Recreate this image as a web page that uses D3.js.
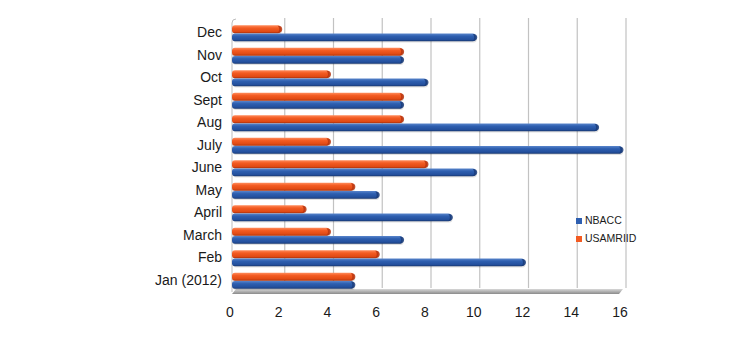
<!DOCTYPE html>
<html>
<head>
<meta charset="utf-8">
<script src="https://cdn.jsdelivr.net/npm/d3@7"></script>
<style>
  html, body { margin: 0; padding: 0; background: #fff; }
  svg { display: block; font-family: "Liberation Sans", Arial, sans-serif; }
</style>
</head>
<body>
<svg id="chart" width="750" height="342"></svg>
<script>
// Monthly counts per laboratory
const months = ["Jan (2012)", "Feb", "March", "April", "May", "June", "July", "Aug", "Sept", "Oct", "Nov", "Dec"];
const nbacc    = [5, 12, 7, 9, 6, 10, 16, 15, 7, 8, 7, 10];
const usamriid = [5, 6, 4, 3, 5, 8, 4, 7, 7, 4, 7, 2];
const xTicks = [0, 2, 4, 6, 8, 10, 12, 14, 16];
const seriesNames = ["NBACC", "USAMRIID"];

const svg = d3.select("#chart");
const plotL = 232, plotR = 622, plotT = 22, plotB = 292;
const depth = 4; // offset of the back wall

const x = d3.scaleLinear().domain([0, 16]).range([plotL, plotR]);
const y = d3.scaleBand().domain(months.slice().reverse()).range([plotT, plotB]);

const defs = svg.append("defs");
function grad(id, stops) {
  const g = defs.append("linearGradient").attr("id", id)
    .attr("x1", 0).attr("y1", 0).attr("x2", 0).attr("y2", 1);
  stops.forEach(([o, c]) => g.append("stop").attr("offset", o).attr("stop-color", c));
}
grad("gBlue", [[0, "#5a86cc"], [0.35, "#2e5fb0"], [0.8, "#234f9c"], [1, "#17366e"]]);
grad("gOrange", [[0, "#ff8a5a"], [0.35, "#f35b22"], [0.8, "#e04a14"], [1, "#a8300c"]]);
grad("gFloor", [[0, "#d8d8d8"], [1, "#8a8a8a"]]);

// back-wall gridlines
svg.append("g").selectAll("line").data(xTicks.slice(1)).join("line")
  .attr("x1", d => x(d) + depth).attr("x2", d => x(d) + depth)
  .attr("y1", plotT - 4).attr("y2", plotB - 4)
  .attr("stroke", "#c2c2c2").attr("stroke-width", 1.2);

// left wall edge
svg.append("path")
  .attr("d", `M${plotL + depth},${plotT - 3} Q${plotL},${plotT - 3} ${plotL},${plotT + 1} L${plotL},${plotB}`)
  .attr("fill", "none").attr("stroke", "#bdbdbd").attr("stroke-width", 1);

// floor
svg.append("path")
  .attr("d", `M${plotL + depth},${plotB - 3} L${plotR + 1},${plotB - 3} L${plotR - 3},${plotB + 2} L${plotL},${plotB + 2} Z`)
  .attr("fill", "url(#gFloor)");

// bars
const barH = 7.8;
const series = [
  { name: "USAMRIID", values: usamriid, fill: "url(#gOrange)", cap: "#b8350e", off: -barH - 0.1 },
  { name: "NBACC", values: nbacc, fill: "url(#gBlue)", cap: "#1a3c7a", off: 0.2 }
];
const bars = svg.append("g");
series.forEach(s => {
  const g = bars.append("g");
  const data = months.map((m, i) => ({ m, v: s.values[i] }));
  const cy = d => y(d.m) + y.bandwidth() / 2 + s.off;
  // shadow
  g.selectAll("rect.sh").data(data).join("rect").attr("class", "sh")
    .attr("x", x(0) + 1).attr("y", d => cy(d) + 1.2)
    .attr("width", d => x(d.v) - x(0)).attr("height", barH)
    .attr("rx", 3).attr("fill", "rgba(0,0,0,0.12)");
  g.selectAll("rect.b").data(data).join("rect").attr("class", "b")
    .attr("x", x(0)).attr("y", d => cy(d))
    .attr("width", d => x(d.v) - x(0)).attr("height", barH)
    .attr("rx", 3).attr("ry", 3).attr("fill", s.fill);
  // rounded end cap
  g.selectAll("path.cap").data(data).join("path").attr("class", "cap")
    .attr("d", d => {
      const xe = x(d.v), y0 = cy(d);
      return `M${xe - 3},${y0 + 0.5} Q${xe + 1.5},${y0 + 0.5} ${xe + 1.5},${y0 + barH / 2} Q${xe + 1.5},${y0 + barH - 0.3} ${xe - 3},${y0 + barH - 0.3} Q${xe},${y0 + barH / 2} ${xe - 3},${y0 + 0.5} Z`;
    })
    .attr("fill", s.cap).attr("opacity", 0.85);
});

// category labels
svg.append("g").selectAll("text").data(months).join("text")
  .attr("x", 222).attr("y", d => y(d) + y.bandwidth() / 2 + 0.5)
  .attr("text-anchor", "end").attr("dominant-baseline", "middle")
  .attr("font-size", 14).attr("fill", "#1a1a1a").text(d => d);

// value axis labels
svg.append("g").selectAll("text").data(xTicks).join("text")
  .attr("x", d => x(d) - 2).attr("y", 317)
  .attr("text-anchor", "middle")
  .attr("font-size", 14).attr("fill", "#1a1a1a").text(d => d);

// legend
const legendColors = { NBACC: "#2e5fb0", USAMRIID: "#f35b22" };
const lg = svg.append("g").attr("transform", "translate(576,218)");
seriesNames.forEach((n, i) => {
  lg.append("rect").attr("x", 0).attr("y", i * 18).attr("width", 6).attr("height", 6)
    .attr("fill", legendColors[n]);
  lg.append("text").attr("x", 9).attr("y", i * 18 + 3.5).attr("dominant-baseline", "middle")
    .attr("font-size", 10.5).attr("fill", "#1a1a1a").text(n);
});
</script>
</body>
</html>
